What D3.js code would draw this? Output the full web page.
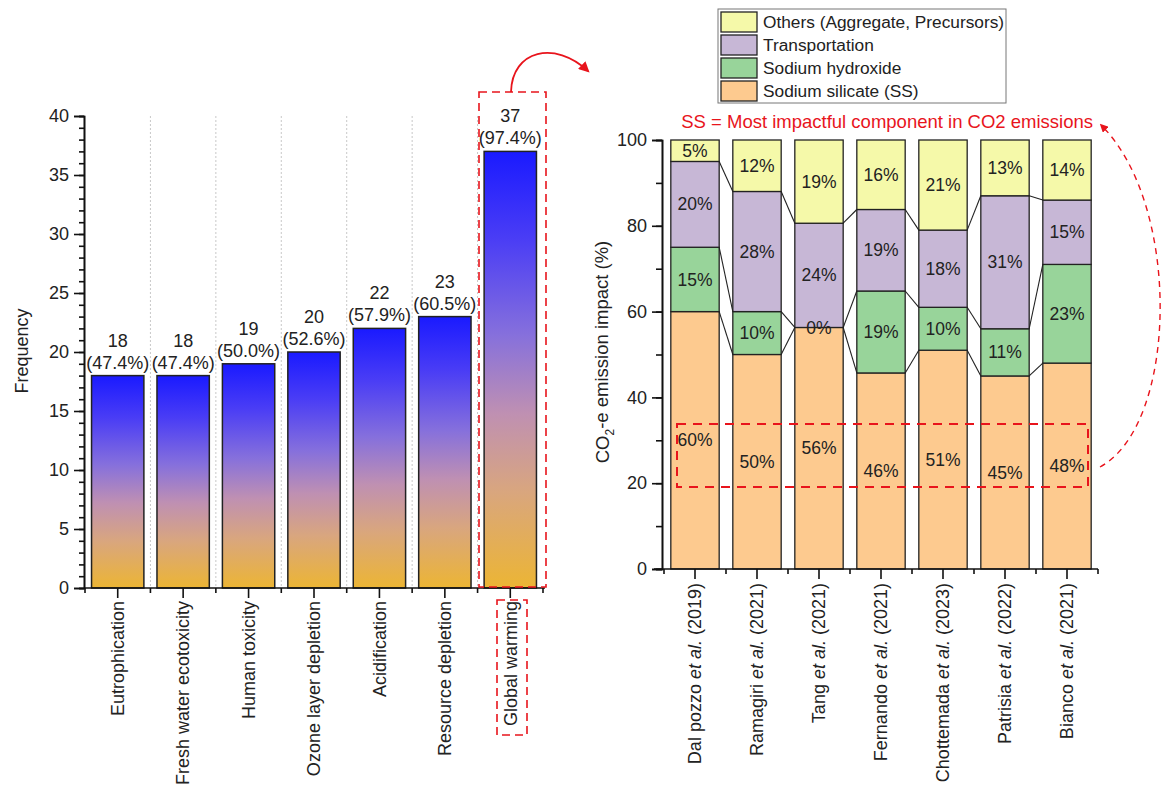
<!DOCTYPE html>
<html lang="en">
<head>
<meta charset="UTF-8">
<title>LCA impact frequency and CO2-e breakdown</title>
<script src="https://d3js.org/d3.v7.min.js"></script>
<style>
  body { margin: 0; background: #fff; }
  svg { font-family: "Liberation Sans", Arial, sans-serif; }
  .axis path, .axis line { stroke: #111; stroke-width: 1.6px; }
  .axis text { font-size: 18px; fill: #222; }
</style>
</head>
<body>
<svg width="1165" height="791"></svg>
<script>
// ---- left chart data: how many studies report each impact category
const impactCats = ["Eutrophication", "Fresh water ecotoxicity", "Human toxicity",
    "Ozone layer depletion", "Acidification", "Resource depletion", "Global warming"];
const frequency = [18, 18, 19, 20, 22, 23, 37];
const totalStudies = 38;
const freqTicks = [0, 5, 10, 15, 20, 25, 30, 35, 40];

// ---- right chart data: share of CO2-e emission (%)
const studyNames = ["Dal pozzo", "Ramagiri", "Tang", "Fernando", "Chottemada", "Patrisia", "Bianco"];
const studyYears = ["2019", "2021", "2021", "2021", "2023", "2022", "2021"];
const sodiumSilicate = [60, 50, 56.3, 45.7, 51, 45, 48];
const sodiumHydroxide = [15, 10, 0, 19.1, 10, 11, 23];
const transportation = [20, 28, 24.3, 19, 18, 31, 15];
const others = [5, 12, 19.4, 16.2, 21, 13, 14];
const componentNames = ["Sodium silicate (SS)", "Sodium hydroxide", "Transportation", "Others (Aggregate, Precursors)"];
const componentColors = ["#fdca8f", "#98d49a", "#c7b7d6", "#f5f9a9"];
const shareTicks = [0, 20, 40, 60, 80, 100];

const svg = d3.select("svg");

// gradient for the frequency bars (blue on top -> orange at the bottom)
const defs = svg.append("defs");
const grad = defs.append("linearGradient")
    .attr("id", "barGrad").attr("x1", 0).attr("y1", 0).attr("x2", 0).attr("y2", 1);
[["0%", "#1a1aff"], ["20%", "#4a3df5"], ["42%", "#8670dc"], ["60%", "#bf90b2"],
 ["78%", "#d9a67e"], ["100%", "#ecb534"]].forEach(s => {
    grad.append("stop").attr("offset", s[0]).attr("stop-color", s[1]);
});
defs.append("marker").attr("id", "arrowRed")
    .attr("viewBox", "0 0 10 10").attr("refX", 8).attr("refY", 5)
    .attr("markerWidth", 6).attr("markerHeight", 6).attr("orient", "auto")
    .append("path").attr("d", "M0,0 L10,5 L0,10 z").attr("fill", "#e8141c");

// =============== LEFT CHART ===============
const xL = d3.scaleBand().domain(impactCats).range([85, 543]).paddingInner(0.2).paddingOuter(0.1);
const yL = d3.scaleLinear().domain([0, 40]).range([588, 116]);
const left = svg.append("g");

// dotted separators between categories
const bounds = d3.range(1, impactCats.length).map(i => xL.range()[0] + i * xL.step());
left.selectAll(".sep").data(bounds).enter().append("line")
    .attr("x1", d => d).attr("x2", d => d).attr("y1", yL(40)).attr("y2", yL(0))
    .attr("stroke", "#c8c8c8").attr("stroke-width", 1).attr("stroke-dasharray", "2,2");

left.selectAll(".bar").data(frequency).enter().append("rect")
    .attr("x", (d, i) => xL(impactCats[i]))
    .attr("y", d => yL(d))
    .attr("width", xL.bandwidth())
    .attr("height", d => yL(0) - yL(d))
    .attr("fill", "url(#barGrad)")
    .attr("stroke", "#222").attr("stroke-width", 1.5);

const pct = d3.format(".1%");
const lab = left.selectAll(".lab").data(frequency).enter().append("text")
    .attr("text-anchor", "middle").attr("font-size", 18).attr("fill", "#222");
lab.append("tspan")
    .attr("x", (d, i) => xL(impactCats[i]) + xL.bandwidth() / 2)
    .attr("y", d => yL(d) - 29).text(d => d);
lab.append("tspan")
    .attr("x", (d, i) => xL(impactCats[i]) + xL.bandwidth() / 2)
    .attr("y", d => yL(d) - 7).text(d => "(" + pct(d / totalStudies) + ")");

// axes
left.append("g").attr("class", "axis").attr("transform", "translate(84,0)")
    .call(d3.axisLeft(yL).tickValues(d3.range(0, 41, 1)).tickSize(5).tickFormat(""));
left.append("g").attr("class", "axis").attr("transform", "translate(84,0)")
    .call(d3.axisLeft(yL).tickValues(freqTicks).tickSize(10).tickPadding(5));
const xAxL = left.append("g").attr("class", "axis").attr("transform", "translate(0,588)")
    .call(d3.axisBottom(xL).tickSize(10).tickFormat("").tickSizeOuter(0));
xAxL.select(".domain").attr("d", "M84,0H545");
xAxL.selectAll(".minor").data(d3.range(0, impactCats.length + 1)).enter().append("line")
    .attr("x1", i => xL.range()[0] + i * xL.step()).attr("x2", i => xL.range()[0] + i * xL.step())
    .attr("y1", 0).attr("y2", 5);
left.selectAll(".xl").data(impactCats).enter().append("text")
    .attr("transform", d => `translate(${xL(d) + xL.bandwidth() / 2},601) rotate(-90)`)
    .attr("dy", "0.35em").attr("text-anchor", "end").attr("font-size", 18).attr("fill", "#222")
    .text(d => d);
left.append("text").attr("transform", "translate(22,351) rotate(-90)")
    .attr("text-anchor", "middle").attr("dy", "0.35em").attr("font-size", 18).attr("fill", "#222")
    .text("Frequency");

// =============== RIGHT CHART ===============
const xR = d3.scaleBand().domain(studyNames).range([664, 1098]).paddingInner(0.22).paddingOuter(0.11);
const yR = d3.scaleLinear().domain([0, 100]).range([569, 140]);
const right = svg.append("g");

const rows = studyNames.map((s, i) => ({
    name: s, year: studyYears[i],
    vals: [sodiumSilicate[i], sodiumHydroxide[i], transportation[i], others[i]]
}));
rows.forEach(r => {
    let c = 0;
    r.cum = r.vals.map(v => (c += v, c));
});

rows.forEach(r => {
    r.vals.forEach((v, k) => {
        const top = r.cum[k], bot = top - v;
        right.append("rect")
            .attr("x", xR(r.name)).attr("y", yR(top))
            .attr("width", xR.bandwidth()).attr("height", yR(bot) - yR(top))
            .attr("fill", componentColors[k]).attr("stroke", "#222").attr("stroke-width", 1.3);
    });
});
// connector lines between neighbouring stacks
for (let i = 0; i < rows.length - 1; i++) {
    for (let k = 0; k < 3; k++) {
        right.append("line")
            .attr("x1", xR(rows[i].name) + xR.bandwidth()).attr("y1", yR(rows[i].cum[k]))
            .attr("x2", xR(rows[i + 1].name)).attr("y2", yR(rows[i + 1].cum[k]))
            .attr("stroke", "#222").attr("stroke-width", 1.1);
    }
}
// segment labels
rows.forEach(r => {
    r.vals.forEach((v, k) => {
        right.append("text")
            .attr("x", xR(r.name) + xR.bandwidth() / 2)
            .attr("y", yR(r.cum[k] - v / 2)).attr("dy", "0.35em")
            .attr("text-anchor", "middle").attr("font-size", 17.5).attr("fill", "#222")
            .text(Math.round(v) + "%");
    });
});

right.append("g").attr("class", "axis").attr("transform", "translate(662,0)")
    .call(d3.axisLeft(yR).tickValues(d3.range(0, 101, 10)).tickSize(6).tickFormat(""));
right.append("g").attr("class", "axis").attr("transform", "translate(662,0)")
    .call(d3.axisLeft(yR).tickValues(shareTicks).tickSize(10).tickPadding(5));
const xAxR = right.append("g").attr("class", "axis").attr("transform", "translate(0,569)")
    .call(d3.axisBottom(xR).tickSize(10).tickFormat("").tickSizeOuter(0));
xAxR.select(".domain").attr("d", "M654,0H1098");
xAxR.selectAll(".minor").data(d3.range(0, studyNames.length + 1)).enter().append("line")
    .attr("x1", i => xR.range()[0] + i * xR.step()).attr("x2", i => xR.range()[0] + i * xR.step())
    .attr("y1", 0).attr("y2", 5);
const xlR = right.selectAll(".xl").data(rows).enter().append("text")
    .attr("transform", d => `translate(${xR(d.name) + xR.bandwidth() / 2},583) rotate(-90)`)
    .attr("dy", "0.35em").attr("text-anchor", "end").attr("font-size", 18).attr("fill", "#222");
xlR.append("tspan").text(d => d.name + " ");
xlR.append("tspan").attr("font-style", "italic").text("et al.");
xlR.append("tspan").text(d => " (" + d.year + ")");

const yt = right.append("text").attr("transform", "translate(603,352) rotate(-90)")
    .attr("text-anchor", "middle").attr("dy", "0.35em").attr("font-size", 18.5).attr("fill", "#222");
yt.append("tspan").text("CO");
yt.append("tspan").attr("font-size", 12).attr("dy", "0.35em").text("2");
yt.append("tspan").attr("dy", "-0.3em").text("-e emission impact (%)");

// legend (top to bottom: Others ... SS)
const leg = right.append("g");
leg.append("rect").attr("x", 718).attr("y", 9).attr("width", 288).attr("height", 94)
    .attr("fill", "#fff").attr("stroke", "#777").attr("stroke-width", 1);
[3, 2, 1, 0].forEach((k, j) => {
    const cy = 22 + j * 23;
    leg.append("rect").attr("x", 721).attr("y", cy - 10).attr("width", 36).attr("height", 20)
        .attr("fill", componentColors[k]).attr("stroke", "#222").attr("stroke-width", 1.3);
    leg.append("text").attr("x", 763).attr("y", cy).attr("dy", "0.35em")
        .attr("font-size", 17.3).attr("fill", "#222").text(componentNames[k]);
});

// =============== ANNOTATIONS ===============
const red = "#e8141c";
svg.append("rect").attr("x", 479).attr("y", 92).attr("width", 67).attr("height", 495)
    .attr("fill", "none").attr("stroke", red).attr("stroke-width", 1.6).attr("stroke-dasharray", "8,5");
svg.append("rect").attr("x", 497).attr("y", 600).attr("width", 30).attr("height", 135)
    .attr("fill", "none").attr("stroke", red).attr("stroke-width", 1.6).attr("stroke-dasharray", "8,5");
svg.append("path").attr("d", "M511,92 C512,50 555,40 588,71")
    .attr("fill", "none").attr("stroke", red).attr("stroke-width", 1.8)
    .attr("marker-end", "url(#arrowRed)");

svg.append("text").attr("x", 1093).attr("y", 128).attr("text-anchor", "end")
    .attr("font-size", 18.5).attr("fill", red)
    .text("SS = Most impactful component in CO2 emissions");
svg.append("rect").attr("x", 677).attr("y", 424).attr("width", 411).attr("height", 63)
    .attr("fill", "none").attr("stroke", red).attr("stroke-width", 2).attr("stroke-dasharray", "9,7");
svg.append("path").attr("d", "M1100,467 C1178,425 1182,205 1101,125")
    .attr("fill", "none").attr("stroke", red).attr("stroke-width", 1.4).attr("stroke-dasharray", "6,5")
    .attr("marker-end", "url(#arrowRed)");
</script>
</body>
</html>
